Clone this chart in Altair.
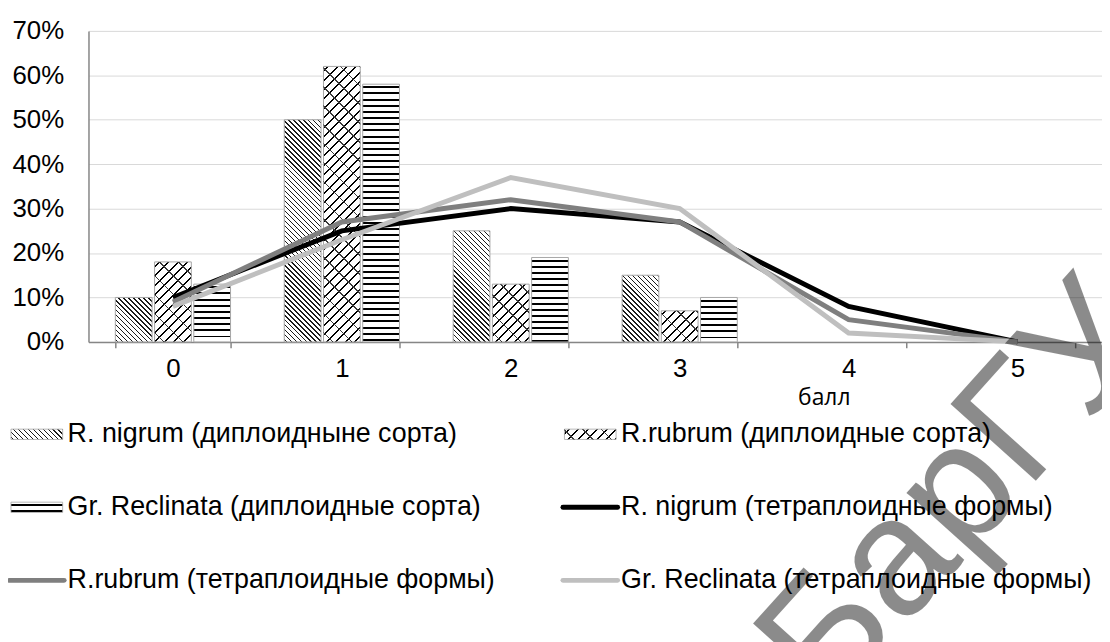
import altair as alt

# ---------------- data ----------------
categories = ["0", "1", "2", "3", "4", "5"]
bar_categories = ["0", "1", "2", "3"]

bar_series = [
    "R. nigrum (диплоидныне сорта)",
    "R.rubrum (диплоидные сорта)",
    "Gr. Reclinata (диплоидные сорта)",
]
nigrum_dipl = [0.10, 0.50, 0.25, 0.15]
rubrum_dipl = [0.18, 0.62, 0.13, 0.07]
reclinata_dipl = [0.13, 0.58, 0.19, 0.10]

line_series = [
    "R. nigrum (тетраплоидные формы)",
    "R.rubrum (тетраплоидные формы)",
    "Gr. Reclinata (тетраплоидные формы)",
]
nigrum_tetra = [0.10, 0.25, 0.30, 0.27, 0.08, 0.00]
rubrum_tetra = [0.09, 0.27, 0.32, 0.27, 0.05, 0.00]
reclinata_tetra = [0.08, 0.23, 0.37, 0.30, 0.02, 0.00]

y_ticks = [0.0, 0.1, 0.2, 0.3, 0.4, 0.5, 0.6, 0.7]
x_title = "балл"
watermark_text = "БарГУ"

# ---------------- style ----------------
FONT = "Liberation Sans"
PLOT_W, PLOT_H = 1020, 313
Y_MAX = 0.7
PX_PER_UNIT = PLOT_H / Y_MAX
BAND_PAD = 0.318
OFF_PAD = 0.063
STEP = PLOT_W / len(categories)
GROUP_W = STEP * (1 - BAND_PAD)
BAR_W = GROUP_W / (3 - OFF_PAD) * (1 - OFF_PAD)
WHITE, INK, CLEAR = "#ffffff", "#000000", "rgba(0,0,0,0)"
LINE_COLORS = ["#000000", "#7f7f7f", "#bfbfbf"]
AXIS_GRAY = "#868686"


def stripe_stops(period, line, bg, fg):
    stops = [{"offset": 0.0, "color": bg}]
    s = (period - line) / 2
    while s < 1:
        a = round(max(s, 0.0), 6)
        e = round(min(s + line, 1.0), 6)
        stops += [
            {"offset": a, "color": bg},
            {"offset": a, "color": fg},
            {"offset": e, "color": fg},
            {"offset": e, "color": bg},
        ]
        s += period
    stops.append({"offset": 1.0, "color": bg})
    return stops


def horizontal(w, h, period, line, bg=WHITE, fg=INK):
    return {"gradient": "linear", "x1": 0, "y1": 0, "x2": 0, "y2": 1,
            "stops": stripe_stops(period / h, line / h, bg, fg)}


def diagonal(w, h, period, line, rising, bg=WHITE, fg=INK):
    k = (w + h) / (w * w + h * h)
    if rising:      # "/" lines
        x1, y1, x2, y2 = 0, 0, w * k, h * k
    else:           # "\" lines
        x1, y1, x2, y2 = 0, 1, w * k, 1 - h * k
    return {"gradient": "linear", "x1": x1, "y1": y1, "x2": x2, "y2": y2,
            "stops": stripe_stops(period / (w + h), line / (w + h), bg, fg)}


def base_pattern(idx, w, h):
    if idx == 0:
        return diagonal(w, h, 5.0, 1.4, rising=False, fg="#1a1a1a")
    if idx == 1:
        return diagonal(w, h, 9.5, 2.0, rising=True)
    return horizontal(w, h, 6.2, 2.0)


def overlay_pattern(w, h):
    return diagonal(w, h, 19.0, 1.5, rising=False, bg=CLEAR, fg="#3a3a3a")


# ---------------- tables ----------------
bar_rows, overlay_rows = [], []
for si, (name, vals) in enumerate(zip(bar_series, [nigrum_dipl, rubrum_dipl, reclinata_dipl])):
    for cat, v in zip(bar_categories, vals):
        h = max(v * PX_PER_UNIT, 1.0)
        bar_rows.append({"cat": cat, "series": name, "value": v,
                         "fill": base_pattern(si, BAR_W, h)})
        if si == 1:
            overlay_rows.append({"cat": cat, "series": name, "value": v,
                                 "fill": overlay_pattern(BAR_W, h)})

line_rows = []
for name, col, vals in zip(line_series, LINE_COLORS, [nigrum_tetra, rubrum_tetra, reclinata_tetra]):
    for cat, v in zip(categories, vals):
        line_rows.append({"cat": cat, "series": name, "value": v, "color": col})

legend_labels = [bar_series[0], bar_series[1], bar_series[2],
                 line_series[0], line_series[1], line_series[2]]
PATCH_W, PATCH_H = 52, 10.4
legend_text_rows, legend_patch_rows, legend_patch_overlay, legend_line_rows = [], [], [], []
for i, lab in enumerate(legend_labels):
    r, c = i // 2, i % 2
    legend_text_rows.append({"row": r, "col": c, "label": lab})
    if i < 3:
        legend_patch_rows.append({"row": r, "col": c, "fill": base_pattern(i, PATCH_W, PATCH_H)})
        if i == 1:
            legend_patch_overlay.append({"row": r, "col": c, "fill": overlay_pattern(PATCH_W, PATCH_H)})
    else:
        legend_line_rows.append({"row": r, "col": c, "color": LINE_COLORS[i - 3]})

# ---------------- main plot ----------------
x_axis = alt.Axis(
    title=x_title, titleFont="Open Sans", titleFontSize=23, titleFontWeight="normal",
    titleColor="#000000", titleX=740, titleY=63, titleAlign="center", titleBaseline="alphabetic",
    labelAngle=0, labelFont=FONT, labelFontSize=26, labelColor="#000000", labelPadding=8,
    labelBaseline="top", tickBand="extent", ticks=True, tickSize=6, tickColor=AXIS_GRAY,
    tickWidth=1.5, domainColor=AXIS_GRAY, domainWidth=1.5, grid=False,
)
y_axis = alt.Axis(
    values=y_ticks, format=".0%", title=None, grid=True, gridColor="#d9d9d9", gridWidth=1,
    ticks=False, domain=True, domainColor=AXIS_GRAY, domainWidth=1.5,
    labelFont=FONT, labelFontSize=26, labelColor="#000000", labelPadding=25,
)

x_scale = alt.Scale(domain=categories, paddingInner=BAND_PAD, paddingOuter=BAND_PAD / 2)
off_scale = alt.Scale(domain=bar_series, paddingInner=OFF_PAD, paddingOuter=0)
y_scale = alt.Scale(domain=[0, Y_MAX], nice=False, zero=True)

bars = alt.Chart(alt.Data(values=bar_rows)).mark_bar(stroke="#a6a6a6", strokeWidth=1).encode(
    x=alt.X("cat:O", scale=x_scale, axis=x_axis),
    xOffset=alt.XOffset("series:N", scale=off_scale),
    y=alt.Y("value:Q", scale=y_scale, stack=None, axis=y_axis),
    fill=alt.Fill("fill:N", scale=None),
)

bars_overlay = alt.Chart(alt.Data(values=overlay_rows)).mark_bar(strokeWidth=0).encode(
    x=alt.X("cat:O", title=x_title),
    xOffset=alt.XOffset("series:N", scale=off_scale),
    y=alt.Y("value:Q", stack=None, title=None),
    fill=alt.Fill("fill:N", scale=None),
)

lines = alt.Chart(alt.Data(values=line_rows)).mark_line(strokeWidth=5).encode(
    x=alt.X("cat:O", title=x_title),
    y=alt.Y("value:Q", title=None),
    color=alt.Color("color:N", scale=None),
    detail="series:N",
)

main = alt.layer(bars, bars_overlay, lines)

# ---------------- legend (own scales) ----------------
lx = alt.X("col:Q", scale=alt.Scale(domain=[0, 1], range=[-52, 505]), axis=None)
ly = alt.Y("row:Q", scale=alt.Scale(domain=[0, 2], range=[406, 553]), axis=None)
PATCH_PATH = "M-1,-0.2L1,-0.2L1,0.2L-1,0.2Z"

leg_patch = alt.Chart(alt.Data(values=legend_patch_rows)).mark_point(
    shape=PATCH_PATH, size=PATCH_W ** 2, filled=True, opacity=1,
    stroke="#a6a6a6", strokeWidth=0.8,
).encode(x=lx, y=ly, fill=alt.Fill("fill:N", scale=None))

leg_patch_ov = alt.Chart(alt.Data(values=legend_patch_overlay)).mark_point(
    shape=PATCH_PATH, size=PATCH_W ** 2, filled=True, opacity=1, strokeWidth=0,
).encode(x=lx, y=ly, fill=alt.Fill("fill:N", scale=None))

leg_line = alt.Chart(alt.Data(values=legend_line_rows)).mark_point(
    shape="M-1,0L1,0", size=55 ** 2, filled=False, opacity=1, strokeWidth=5, strokeCap="round",
).encode(x=lx, y=ly, stroke=alt.Stroke("color:N", scale=None))

leg_text = alt.Chart(alt.Data(values=legend_text_rows)).mark_text(
    align="left", baseline="middle", dx=31, font=FONT, fontSize=27, color="#000000",
).encode(x=lx, y=ly, text="label:N")

legend = alt.layer(leg_patch, leg_patch_ov, leg_line, leg_text)

# ---------------- watermark ----------------
watermark = alt.Chart(alt.Data(values=[{"t": watermark_text}])).mark_text(
    font=FONT, fontSize=168, angle=312, align="center", baseline="alphabetic",
    color="#000000", opacity=0.45,
).encode(text="t:N", x=alt.value(911), y=alt.value(500))

chart = alt.layer(main, legend, watermark).resolve_scale(
    x="independent", y="independent"
).properties(
    width=PLOT_W, height=PLOT_H,
    autosize=alt.AutoSizeParams(type="none"),
    padding={"left": 81, "top": 21, "right": 0, "bottom": 300},
).configure_view(stroke=None)

chart.save("out.html", embed_options={"renderer": "svg", "actions": False})
